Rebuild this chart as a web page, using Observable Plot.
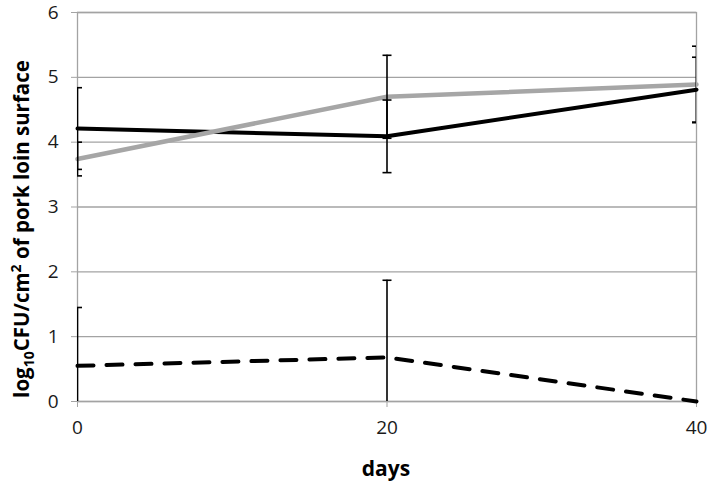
<!DOCTYPE html>
<html>
<head>
<meta charset="utf-8">
<script src="https://cdn.jsdelivr.net/npm/d3@7"></script>
<script src="https://cdn.jsdelivr.net/npm/@observablehq/plot@0.6"></script>
<style>
  html, body { margin: 0; padding: 0; background: #fff; }
  #chart { width: 709px; height: 489px; }
</style>
</head>
<body>
<div id="chart"></div>
<script>
// ---- data ----
const days = [0, 20, 40];
const blackMean = [4.21, 4.09, 4.81];
const blackErr  = [0.63, 0.56, 0.50];
const grayMean  = [3.74, 4.70, 4.89];
const grayErr   = [0.26, 0.64, 0.59];
const dashMean  = [0.55, 0.68, 0.00];
const dashErr   = [0.90, 1.19, 0.00];
const yTicks = [0, 1, 2, 3, 4, 5, 6];
const xTicks = [0, 20, 40];
const xLabel = "days";

const build = (name, means, errs) => days.map((d, i) => ({series: name, day: d, mean: means[i], err: errs[i]}));
const blackRows = build("black", blackMean, blackErr);
const grayRows  = build("gray", grayMean, grayErr);
const dashRows  = build("dashed", dashMean, dashErr);
const allRows = [...blackRows, ...grayRows, ...dashRows].filter(d => d.err > 0);
const capRows = allRows.flatMap(d => [
  {day: d.day, v: d.mean + d.err},
  {day: d.day, v: d.mean - d.err}
]);

const capSymbol = {
  draw(ctx, size) {
    const r = Math.sqrt(size / Math.PI);
    ctx.moveTo(-r, 0);
    ctx.lineTo(r, 0);
  }
};

const gridColor = "#a3a3a3";
const font = "'Open Sans', 'Noto Sans', sans-serif";

const chart = Plot.plot({
  width: 709,
  height: 489,
  marginLeft: 77,
  marginRight: 13,
  marginTop: 12,
  marginBottom: 88,
  style: {fontFamily: font, fontSize: "19px", color: "#1a1a1a", background: "#fff"},
  x: {domain: [0, 40], label: null},
  y: {domain: [0, 6], label: null},
  marks: [
    Plot.gridY(yTicks, {stroke: gridColor, strokeOpacity: 1, strokeWidth: 1.3}),
    Plot.frame({stroke: gridColor, strokeWidth: 1.3}),
    Plot.axisY(yTicks, {tickSize: 6, tickPadding: 13, stroke: gridColor, fill: "#1a1a1a", label: null, tickFormat: "d", fontSize: 19}),
    Plot.axisX(xTicks, {tickSize: 6, tickPadding: 13, stroke: gridColor, fill: "#1a1a1a", label: null, tickFormat: "d", fontSize: 19}),
    Plot.line(blackRows, {x: "day", y: "mean", stroke: "#000", strokeWidth: 4}),
    Plot.line(grayRows, {x: "day", y: "mean", stroke: "#a6a6a6", strokeWidth: 4.5}),
    Plot.line(dashRows, {x: "day", y: "mean", stroke: "#000", strokeWidth: 4, strokeDasharray: "16,13"}),
    Plot.ruleX(allRows, {x: "day", y1: d => d.mean - d.err, y2: d => d.mean + d.err, stroke: "#000", strokeWidth: 1.6, clip: true}),
    Plot.dot(capRows, {x: "day", y: "v", symbol: capSymbol, r: 4.5, stroke: "#000", strokeWidth: 1.6, fill: "none", clip: true})
  ]
});

const svg = d3.select(chart);
// y-axis title with subscript / superscript
const yt = svg.append("text")
  .attr("transform", "translate(29,229) rotate(-90)")
  .attr("text-anchor", "middle")
  .attr("font-family", font)
  .attr("font-weight", "bold")
  .attr("font-size", 20.5)
  .attr("fill", "#000");
yt.append("tspan").text("log");
yt.append("tspan").attr("font-size", 14).attr("dy", 5).text("10");
yt.append("tspan").attr("dy", -5).text("CFU/cm");
yt.append("tspan").attr("font-size", 14).attr("dy", -8).text("2");
yt.append("tspan").attr("dy", 8).text(" of pork loin surface");

// x-axis title
svg.append("text")
  .attr("x", 386)
  .attr("y", 476)
  .attr("text-anchor", "middle")
  .attr("font-family", font)
  .attr("font-weight", "bold")
  .attr("font-size", 21)
  .attr("fill", "#000")
  .text(xLabel);

document.getElementById("chart").appendChild(chart);
</script>
</body>
</html>
